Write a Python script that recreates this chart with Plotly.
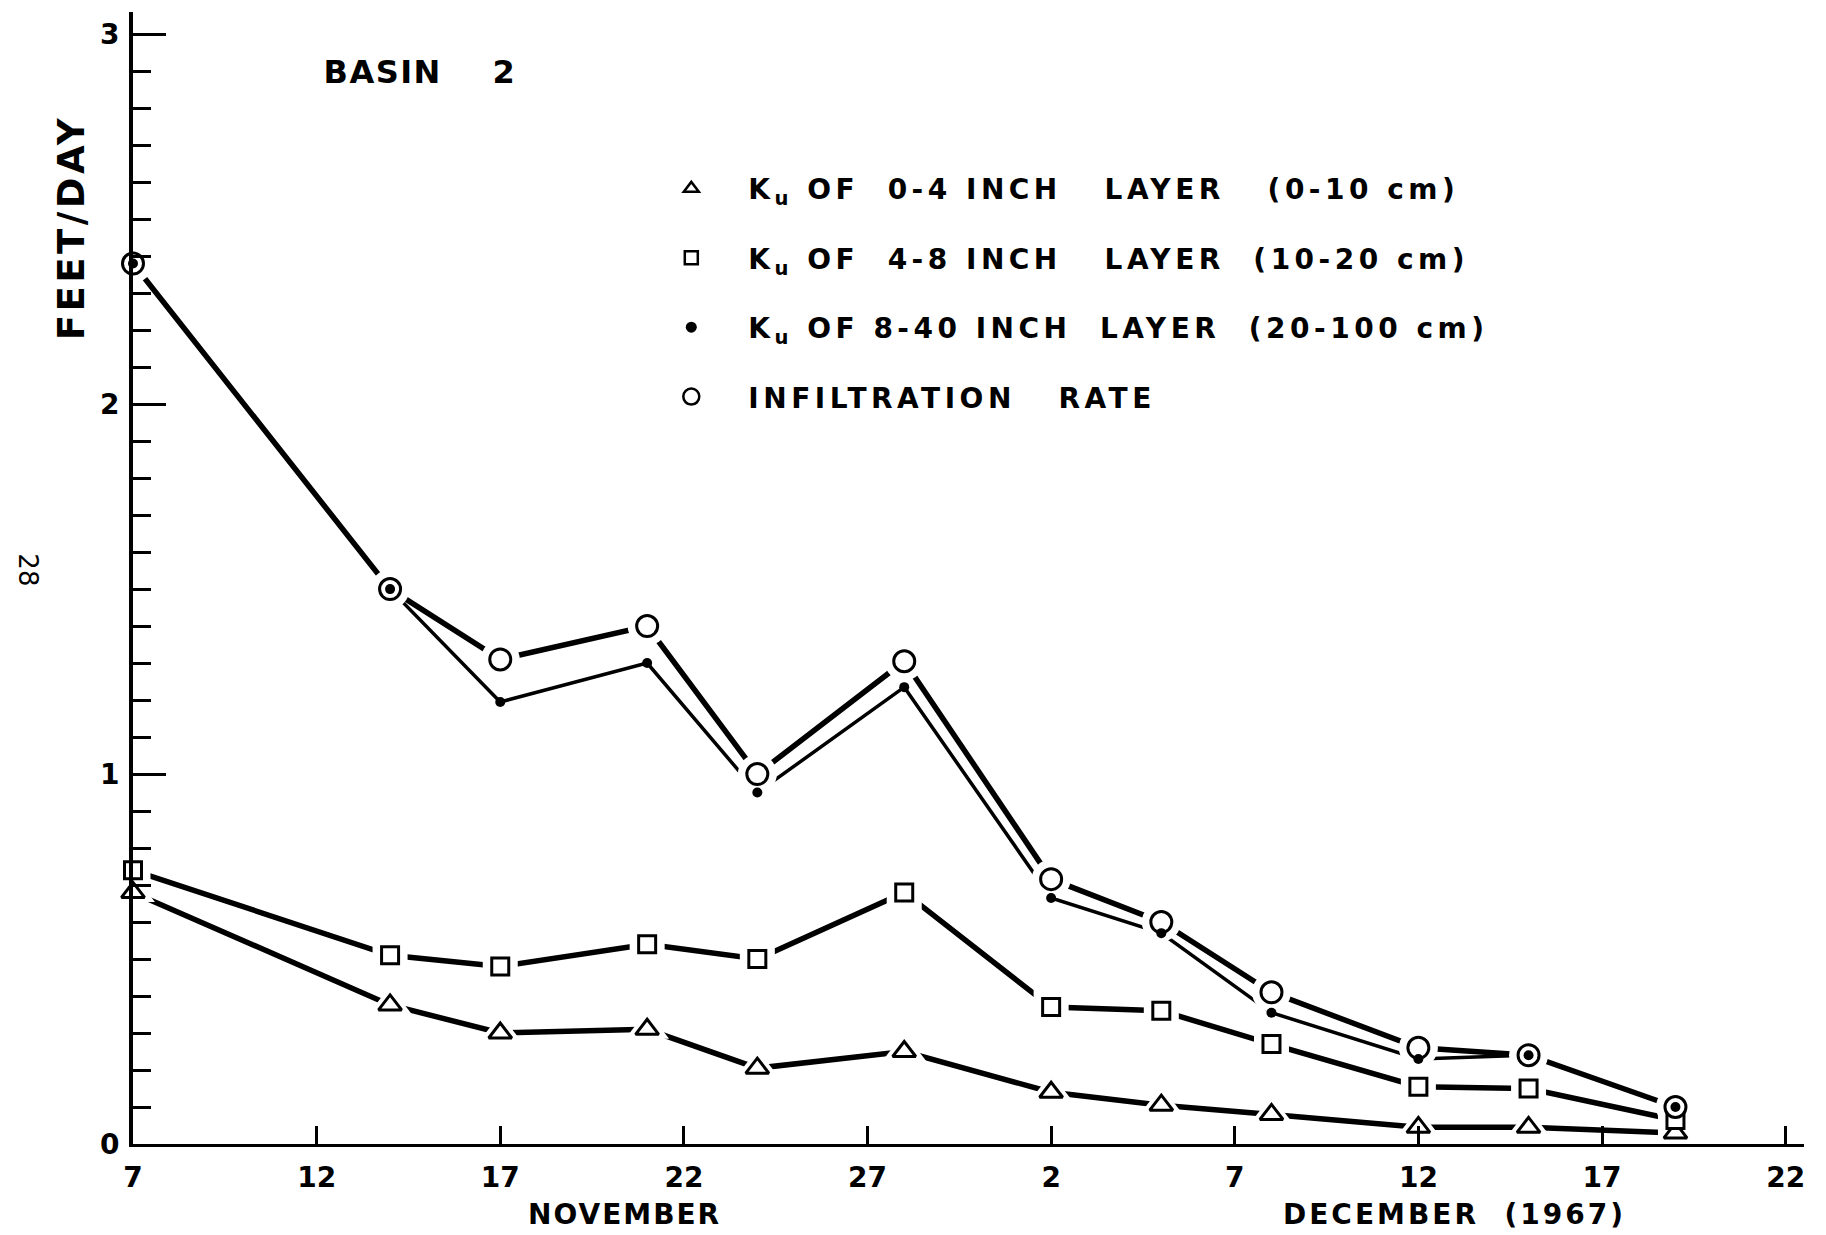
import plotly.graph_objects as go

# ---- data ----
dates = ["1967-11-07", "1967-11-14", "1967-11-17", "1967-11-21", "1967-11-24",
         "1967-11-28", "1967-12-02", "1967-12-05", "1967-12-08", "1967-12-12",
         "1967-12-15", "1967-12-19"]
ku_0_4 = [0.68, 0.376, 0.30, 0.31, 0.205, 0.25, 0.14, 0.105, 0.08, 0.045, 0.045, 0.03]
ku_4_8 = [0.74, 0.51, 0.48, 0.54, 0.50, 0.68, 0.37, 0.36, 0.27, 0.155, 0.15, 0.065]
ku_8_40 = [2.38, 1.50, 1.195, 1.30, 0.95, 1.235, 0.665, 0.57, 0.355, 0.23, 0.24, 0.10]
infiltration = [2.38, 1.50, 1.31, 1.40, 1.00, 1.305, 0.716, 0.60, 0.41, 0.26, 0.24, 0.10]

tick_dates = ["1967-11-07", "1967-11-12", "1967-11-17", "1967-11-22", "1967-11-27",
              "1967-12-02", "1967-12-07", "1967-12-12", "1967-12-17", "1967-12-22"]
tick_labels = ["7", "12", "17", "22", "27", "2", "7", "12", "17", "22"]
y_tick_vals = [0, 1, 2, 3]
y_tick_labels = ["0", "1", "2", "3"]

NB = "\u00a0"
legend_names = [
    f"K<sub>u</sub>{NB}OF{NB}{NB}0-4{NB}INCH{NB}{NB}{NB}LAYER{NB}{NB}{NB}(0-10{NB}cm)",
    f"K<sub>u</sub>{NB}OF{NB}{NB}4-8{NB}INCH{NB}{NB}{NB}LAYER{NB}{NB}(10-20{NB}cm)",
    f"K<sub>u</sub>{NB}OF{NB}8-40{NB}INCH{NB}{NB}LAYER{NB}{NB}(20-100{NB}cm)",
    f"INFILTRATION{NB}{NB}{NB}RATE",
]

FONT = "DejaVu Sans"
BLACK = "black"
HALO = "white"

fig = go.Figure()

# lines
fig.add_trace(go.Scatter(x=dates, y=ku_8_40, mode="lines",
                         line=dict(color=BLACK, width=3.5), showlegend=False,
                         cliponaxis=False, hoverinfo="skip"))
for ys in (infiltration, ku_4_8, ku_0_4):
    fig.add_trace(go.Scatter(x=dates, y=ys, mode="lines",
                             line=dict(color=BLACK, width=5.5), showlegend=False,
                             cliponaxis=False, hoverinfo="skip"))

# white halos (small gaps between the lines and the open markers)
for ys, sym, sz in ((ku_0_4, "triangle-up", 38), (ku_4_8, "square", 35),
                    (infiltration, "circle", 39)):
    fig.add_trace(go.Scatter(x=dates, y=ys, mode="markers",
                             marker=dict(symbol=sym, size=sz, color=HALO,
                                         line=dict(width=0)),
                             showlegend=False, cliponaxis=False, hoverinfo="skip"))

# open markers
fig.add_trace(go.Scatter(x=dates, y=ku_0_4, mode="markers",
                         marker=dict(symbol="triangle-up", size=20, color="white",
                                     line=dict(color=BLACK, width=3)),
                         showlegend=False, cliponaxis=False))
fig.add_trace(go.Scatter(x=dates, y=ku_4_8, mode="markers",
                         marker=dict(symbol="square", size=17, color="white",
                                     line=dict(color=BLACK, width=3)),
                         showlegend=False, cliponaxis=False))
fig.add_trace(go.Scatter(x=dates, y=infiltration, mode="markers",
                         marker=dict(symbol="circle", size=21, color="white",
                                     line=dict(color=BLACK, width=3)),
                         showlegend=False, cliponaxis=False))
fig.add_trace(go.Scatter(x=dates, y=ku_8_40, mode="markers",
                         marker=dict(symbol="circle", size=10, color=BLACK,
                                     line=dict(width=0)),
                         showlegend=False, cliponaxis=False))

# legend entries (symbols only)
leg_markers = [
    dict(symbol="triangle-up", size=13, color="white", line=dict(color=BLACK, width=2.5)),
    dict(symbol="square", size=13, color="white", line=dict(color=BLACK, width=2.5)),
    dict(symbol="circle", size=11, color=BLACK, line=dict(width=0)),
    dict(symbol="circle", size=16, color="white", line=dict(color=BLACK, width=2.5)),
]
for i, (nm, mk) in enumerate(zip(legend_names, leg_markers)):
    fig.add_trace(go.Scatter(x=[None], y=[None], mode="markers", name=nm,
                             marker=mk, legendgroup=f"g{i}", showlegend=True))

BOLD = dict(family=FONT, color=BLACK, weight="bold")

fig.update_layout(
    width=1826, height=1235,
    margin=dict(l=133, r=22, t=12, b=91),
    paper_bgcolor="white", plot_bgcolor="white",
    font=dict(family=FONT, color=BLACK),
    showlegend=True,
    legend=dict(x=0.300, y=0.866, xanchor="left", yanchor="top",
                font=dict(BOLD, size=28),
                itemwidth=104, tracegroupgap=30, traceorder="grouped",
                bgcolor="rgba(0,0,0,0)", borderwidth=0, itemclick=False),
    xaxis=dict(
        type="date",
        range=["1967-11-07", "1967-12-22 12:00"],
        tickmode="array", tickvals=tick_dates, ticktext=tick_labels,
        ticks="inside", ticklen=18, tickwidth=2.5, tickcolor=BLACK,
        showline=True, linewidth=3, linecolor=BLACK,
        showgrid=False, zeroline=False,
        tickfont=dict(BOLD, size=28),
        ticklabelstandoff=6,
    ),
    yaxis=dict(
        range=[0, 3.06],
        tickmode="array", tickvals=y_tick_vals, ticktext=y_tick_labels,
        ticks="inside", ticklen=33, tickwidth=3, tickcolor=BLACK,
        minor=dict(dtick=0.1, ticks="inside", ticklen=18, tickwidth=3, tickcolor=BLACK,
                   showgrid=False),
        showline=True, linewidth=4, linecolor=BLACK,
        showgrid=False, zeroline=False,
        tickfont=dict(BOLD, size=28),
        ticklabelstandoff=4,
    ),
    annotations=[
        dict(text="FEET/DAY", xref="paper", yref="paper", x=-0.037, y=0.810,
             textangle=-90, showarrow=False, font=dict(BOLD, size=37),
             xanchor="center", yanchor="middle"),
        dict(text=f"BASIN{NB}{NB}{NB}{NB}2", xref="paper", yref="paper",
             x=0.172, y=0.947, showarrow=False, xanchor="center", yanchor="middle",
             font=dict(BOLD, size=32)),
        dict(text="NOVEMBER", xref="paper", yref="paper", x=0.294, y=-0.0627,
             showarrow=False, xanchor="center", yanchor="middle",
             font=dict(BOLD, size=28)),
        dict(text=f"DECEMBER{NB}{NB}(1967)", xref="paper", yref="paper", x=0.791, y=-0.0627,
             showarrow=False, xanchor="center", yanchor="middle",
             font=dict(BOLD, size=28)),
        dict(text="28", xref="paper", yref="paper", x=-0.063, y=0.507,
             textangle=90, showarrow=False, xanchor="center", yanchor="middle",
             font=dict(family=FONT, size=26, color=BLACK)),
    ],
)

post_js = """
document.body.style.margin = '0';
document.querySelectorAll('.legend [clip-path]').forEach(function (e) {
  e.removeAttribute('clip-path');
});
function spacing(sel, v) {
  document.querySelectorAll(sel).forEach(function (e) { e.style.letterSpacing = v; });
}
spacing('.legendtext', '4.5px');
var sp = {'FEET': '3.5px', 'BASIN': '1.5px', 'NOVEMBER': '2px', 'DECEMBER': '3px'};
document.querySelectorAll('.annotation-text').forEach(function (e) {
  Object.keys(sp).forEach(function (k) {
    if (e.textContent.indexOf(k) === 0) { e.style.letterSpacing = sp[k]; }
  });
});
"""

fig.write_html("out.html", post_script=post_js, config={"displayModeBar": False})
